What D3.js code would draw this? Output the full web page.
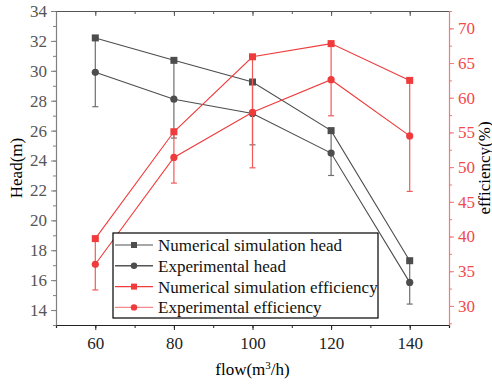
<!DOCTYPE html>
<html>
<head>
<meta charset="utf-8">
<script src="https://cdn.jsdelivr.net/npm/d3@7"></script>
<style>
  body { margin: 0; background: #fff; }
  svg { display: block; font-family: "Liberation Serif", "Times New Roman", serif; }
</style>
</head>
<body>
<div id="chart"></div>
<script>
const flow = [60, 80, 100, 120, 140];
const simHead = [32.2, 30.7, 29.25, 26.0, 17.3];
const expHead = [29.9, 28.1, 27.15, 24.5, 15.85];
const headErr = [2.3, 2.6, 2.1, 1.5, 1.45];
const simEff = [39.7, 55.1, 65.9, 67.8, 62.5];
const expEff = [36.0, 51.4, 57.9, 62.6, 54.5];
const effErr = [3.7, 3.7, 8.0, 5.2, 8.0];
const legendLabels = ["Numerical simulation head", "Experimental head",
  "Numerical simulation efficiency", "Experimental efficiency"];

const width = 492, height = 385;
const m = { left: 56, right: 449, top: 11, bottom: 325 };
const gray = "#4d4d4d", red = "#ef3b3b";

const svg = d3.select("#chart").append("svg")
  .attr("width", width).attr("height", height);

const x = d3.scaleLinear().domain([50, 150]).range([m.left, m.right]);
const yL = d3.scaleLinear().domain([13, 34]).range([m.bottom, m.top]);
const yR = d3.scaleLinear().domain([27.25, 72.5]).range([m.bottom, m.top]);

// axes (drop d3's sans-serif default so the serif font is used)
function styleAxis(g, col, textCol) {
  g.attr("font-family", null).attr("font-size", null);
  g.select(".domain").attr("stroke", col).attr("stroke-width", 1.2);
  g.selectAll(".tick line").attr("stroke", col);
  g.selectAll(".tick text").attr("fill", textCol)
    .style("font-size", "17px")
    .style("font-family", "'Liberation Serif', serif");
}

const xMinor = d3.range(50, 151, 10);
svg.append("g").attr("transform", `translate(0,${m.bottom})`)
  .call(d3.axisBottom(x).tickValues(xMinor).tickSize(3).tickFormat(""))
  .call(g => styleAxis(g, "#222", "#222"));
svg.append("g").attr("transform", `translate(0,${m.bottom})`)
  .call(d3.axisBottom(x).tickValues(flow).tickSize(5).tickPadding(7).tickSizeOuter(0))
  .call(g => styleAxis(g, "#222", "#222"))
  .call(g => g.select(".domain").remove());

svg.append("g").attr("transform", `translate(0,${m.top})`)
  .call(d3.axisBottom(x).tickValues(xMinor).tickSize(3).tickFormat("").tickSizeOuter(0))
  .call(g => styleAxis(g, "#555", "#555"));
svg.append("g").attr("transform", `translate(0,${m.top})`)
  .call(d3.axisBottom(x).tickValues(flow).tickSize(5).tickFormat("").tickSizeOuter(0))
  .call(g => styleAxis(g, "#555", "#555"))
  .call(g => g.select(".domain").remove());

svg.append("g").attr("transform", `translate(${m.left},0)`)
  .call(d3.axisLeft(yL).tickValues(d3.range(13, 34.1, 1)).tickSize(3).tickFormat("").tickSizeOuter(0))
  .call(g => styleAxis(g, "#808080", "#555"));
svg.append("g").attr("transform", `translate(${m.left},0)`)
  .call(d3.axisLeft(yL).tickValues(d3.range(14, 34.1, 2)).tickSize(5).tickPadding(4).tickSizeOuter(0))
  .call(g => styleAxis(g, "#808080", "#555"))
  .call(g => g.select(".domain").remove());

svg.append("g").attr("transform", `translate(${m.right},0)`)
  .call(d3.axisRight(yR).tickValues(d3.range(27.5, 72.6, 2.5)).tickSize(3).tickFormat("").tickSizeOuter(0))
  .call(g => styleAxis(g, "#f27a7a", red));
svg.append("g").attr("transform", `translate(${m.right},0)`)
  .call(d3.axisRight(yR).tickValues(d3.range(30, 70.1, 5)).tickSize(5).tickPadding(4).tickSizeOuter(0))
  .call(g => styleAxis(g, "#f27a7a", "#f04a4a"))
  .call(g => g.select(".domain").remove());

// axis titles
svg.append("text")
  .attr("transform", `translate(22,${(m.top + m.bottom) / 2}) rotate(-90)`)
  .attr("text-anchor", "middle").style("font-size", "17px").text("Head(m)");
svg.append("text")
  .attr("transform", `translate(490,${(m.top + m.bottom) / 2}) rotate(-90)`)
  .attr("text-anchor", "middle").style("font-size", "17px").text("efficiency(%)");
const xt = svg.append("text")
  .attr("x", (m.left + m.right) / 2).attr("y", 375)
  .attr("text-anchor", "middle").style("font-size", "17px");
xt.append("tspan").text("flow(m");
xt.append("tspan").attr("dy", -6).style("font-size", "11px").text("3");
xt.append("tspan").attr("dy", 6).text("/h)");

// series drawing
function errBars(vals, errs, y, col) {
  const g = svg.append("g").attr("stroke", col).attr("stroke-width", 1.2);
  flow.forEach((f, i) => {
    const cx = x(f), y0 = y(vals[i] - errs[i]), y1 = y(vals[i] + errs[i]);
    g.append("line").attr("x1", cx).attr("x2", cx).attr("y1", y0).attr("y2", y1);
    [y0, y1].forEach(yy => g.append("line")
      .attr("x1", cx - 3).attr("x2", cx + 3).attr("y1", yy).attr("y2", yy));
  });
}

function series(vals, y, col, shape) {
  svg.append("path")
    .datum(vals)
    .attr("fill", "none").attr("stroke", col).attr("stroke-width", 1.1)
    .attr("d", d3.line().x((d, i) => x(flow[i])).y(d => y(d)));
  const g = svg.append("g").attr("fill", col);
  vals.forEach((v, i) => {
    if (shape === "square") {
      g.append("rect").attr("x", x(flow[i]) - 3.5).attr("y", y(v) - 3.5)
        .attr("width", 7).attr("height", 7);
    } else {
      g.append("circle").attr("cx", x(flow[i])).attr("cy", y(v)).attr("r", 3.6);
    }
  });
}

errBars(expHead, headErr, yL, "#6e6e6e");
series(simHead, yL, gray, "square");
series(expHead, yL, gray, "circle");
errBars(expEff, effErr, yR, "#f25a5a");
series(simEff, yR, red, "square");
series(expEff, yR, red, "circle");

// legend
const lg = svg.append("g");
lg.append("rect").attr("x", 113).attr("y", 233).attr("width", 265).attr("height", 85)
  .attr("fill", "#fff").attr("stroke", "#000").attr("stroke-width", 1.2);
const legLine = ["#8a8a8a", "#555", red, "#f28a8a"];
const legMark = [gray, gray, red, red];
const legShape = ["square", "circle", "square", "circle"];
legendLabels.forEach((t, i) => {
  const cy = 245 + i * 20.8;
  lg.append("line").attr("x1", 115).attr("x2", 153).attr("y1", cy).attr("y2", cy)
    .attr("stroke", legLine[i]).attr("stroke-width", 1.4);
  if (legShape[i] === "square") {
    lg.append("rect").attr("x", 131).attr("y", cy - 3).attr("width", 6).attr("height", 6)
      .attr("fill", legMark[i]);
  } else {
    lg.append("circle").attr("cx", 134).attr("cy", cy).attr("r", 3.2).attr("fill", legMark[i]);
  }
  lg.append("text").attr("x", 158).attr("y", cy + 6).style("font-size", "17px")
    .attr("fill", "#111").text(t);
});
</script>
</body>
</html>
